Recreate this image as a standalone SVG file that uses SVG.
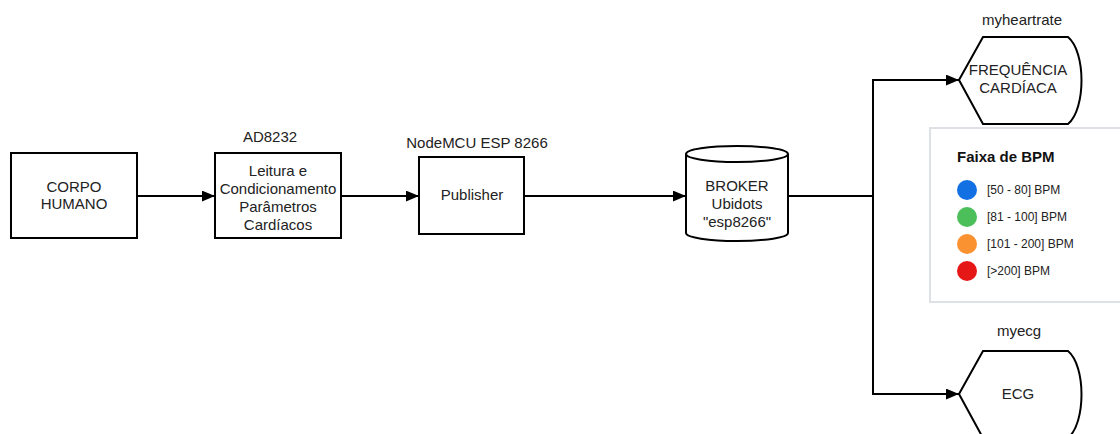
<svg xmlns="http://www.w3.org/2000/svg" width="1120" height="434" viewBox="0 0 1120 434">
<style>
.shape{fill:#fff;stroke:#000;stroke-width:2}
.t{font-family:"Liberation Sans",Arial,sans-serif;font-size:15px;fill:#222;text-anchor:middle}
.lt{font-family:"Liberation Sans",Arial,sans-serif;font-size:12px;fill:#222}
.conn{fill:none;stroke:#000;stroke-width:2}
</style>
<defs>
<marker id="arr" viewBox="0 0 12 10" refX="12" refY="5" markerWidth="13" markerHeight="11" markerUnits="userSpaceOnUse" orient="auto">
<path d="M0,0 L12,5 L0,10 Z" fill="#000"/>
</marker>
</defs>
<rect width="1120" height="434" fill="#fff"/>
<g id="corpo">
<rect class="shape" x="11" y="153" width="126" height="85"/>
<text class="t" x="74" y="192">CORPO</text>
<text class="t" x="74" y="209">HUMANO</text>
</g>
<g id="ad8232">
<text class="t" x="270" y="142">AD8232</text>
<rect class="shape" x="215" y="153" width="126" height="85"/>
<text class="t" x="278" y="176">Leitura e</text>
<text class="t" x="278" y="194">Condicionamento</text>
<text class="t" x="278" y="212">Parâmetros</text>
<text class="t" x="278" y="230">Cardíacos</text>
</g>
<g id="publisher">
<text class="t" x="477" y="148">NodeMCU ESP 8266</text>
<rect class="shape" x="419" y="157" width="105" height="77"/>
<text class="t" x="472" y="200">Publisher</text>
</g>
<g id="broker">
<path class="shape" d="M686,154 L686,233 A51,8 0 0 0 788,233 L788,154 A51,8 0 0 0 686,154 Z"/>
<path class="shape" d="M686,154 A51,8 0 0 0 788,154" fill="none"/>
<text class="t" x="737" y="191">BROKER</text>
<text class="t" x="737" y="209">Ubidots</text>
<text class="t" x="737" y="227">"esp8266"</text>
</g>
<g id="freq">
<text class="t" x="1022" y="25">myheartrate</text>
<path class="shape" d="M959,80 L983,37 L1068,37 C1086,52 1086,109 1068,124 L983,124 Z"/>
<text class="t" x="1018" y="75">FREQUÊNCIA</text>
<text class="t" x="1018" y="93">CARDÍACA</text>
</g>
<g id="ecg">
<text class="t" x="1019" y="336">myecg</text>
<path class="shape" d="M959,394 L983,351 L1068,351 C1086,366 1086,423 1068,438 L983,438 Z"/>
<text class="t" x="1018" y="399">ECG</text>
</g>
<g id="legend">
<rect x="930" y="128" width="200" height="174" fill="#fff" stroke="#dde1e6" stroke-width="2"/>
<text x="957" y="162" font-family="Liberation Sans,Arial,sans-serif" font-size="15" font-weight="bold" fill="#111">Faixa de BPM</text>
<circle cx="967" cy="190" r="10" fill="#1370e3"/>
<text class="lt" x="987" y="194">[50 - 80] BPM</text>
<circle cx="967" cy="217" r="10" fill="#4cbf5a"/>
<text class="lt" x="987" y="221">[81 - 100] BPM</text>
<circle cx="967" cy="244" r="10" fill="#fb9232"/>
<text class="lt" x="987" y="248">[101 - 200] BPM</text>
<circle cx="967" cy="271" r="10" fill="#e61717"/>
<text class="lt" x="987" y="275">[&gt;200] BPM</text>
</g>
<g id="connectors">
<path class="conn" d="M137,196 L215,196" marker-end="url(#arr)"/>
<path class="conn" d="M341,196 L419,196" marker-end="url(#arr)"/>
<path class="conn" d="M524,196 L686,196" marker-end="url(#arr)"/>
<path class="conn" d="M788,196 L873,196"/>
<path class="conn" d="M873,196 L873,80 L959,80" marker-end="url(#arr)"/>
<path class="conn" d="M873,196 L873,394 L959,394" marker-end="url(#arr)"/>
</g>
</svg>
